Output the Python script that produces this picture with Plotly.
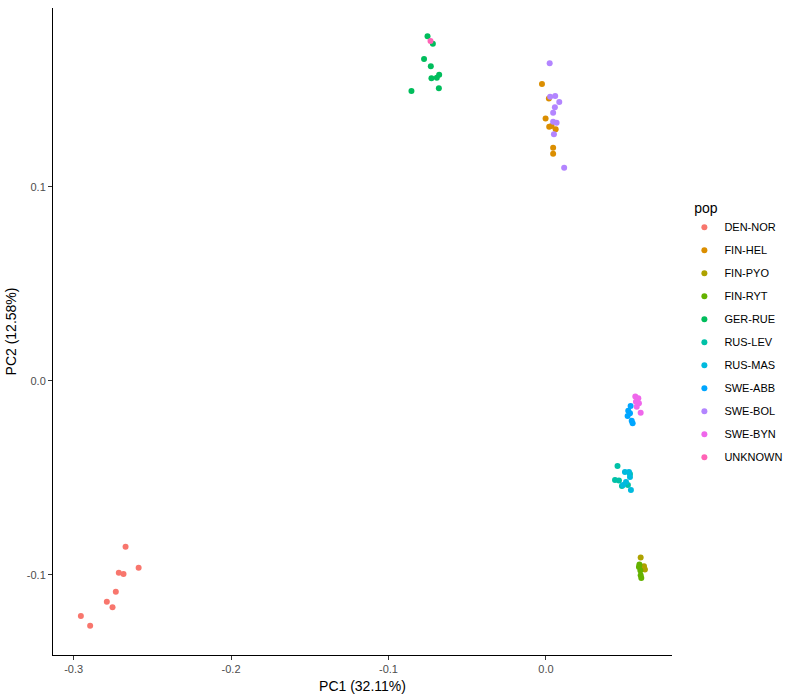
import plotly.graph_objects as go

pops = ["DEN-NOR", "FIN-HEL", "FIN-PYO", "FIN-RYT", "GER-RUE", "RUS-LEV",
        "RUS-MAS", "SWE-ABB", "SWE-BOL", "SWE-BYN", "UNKNOWN"]
colors = ["#F8766D", "#DB8E00", "#AEA200", "#64B200", "#00BD5C", "#00C1A7",
          "#00BADE", "#00A6FF", "#B385FF", "#EF67EB", "#FF63B6"]

pc1 = {
    "DEN-NOR": [-0.2670, -0.2587, -0.2713, -0.2683, -0.2732, -0.2789, -0.2753, -0.2954, -0.2895],
    "FIN-HEL": [-0.0025, 0.0019, -0.0002, 0.0021, 0.0036, 0.0062, 0.0046, 0.0046],
    "FIN-PYO": [0.0602, 0.0623, 0.0629, 0.0613],
    "FIN-RYT": [0.0594, 0.0600, 0.0602, 0.0606, 0.0591],
    "GER-RUE": [-0.0752, -0.0718, -0.0774, -0.0731, -0.0727, -0.0693, -0.0678, -0.0680, -0.0854],
    "RUS-LEV": [0.0455, 0.0439, 0.0464, 0.0483, 0.0521, 0.0534],
    "RUS-MAS": [0.0502, 0.0528, 0.0534, 0.0509, 0.0490, 0.0540],
    "SWE-ABB": [0.0538, 0.0523, 0.0534, 0.0519, 0.0545, 0.0551],
    "SWE-BOL": [0.0024, 0.0027, 0.0059, 0.0085, 0.0057, 0.0046, 0.0046, 0.0068, 0.0051, 0.0116],
    "SWE-BYN": [0.0568, 0.0587, 0.0572, 0.0591, 0.0577, 0.0602],
    "UNKNOWN": [-0.0733],
}
pc2 = {
    "DEN-NOR": [-0.0856, -0.0964, -0.0990, -0.0996, -0.1088, -0.1139, -0.1168, -0.1213, -0.1263],
    "FIN-HEL": [0.1529, 0.1454, 0.1351, 0.1309, 0.1313, 0.1296, 0.1201, 0.1170],
    "FIN-PYO": [-0.0911, -0.0957, -0.0973, -0.0965],
    "FIN-RYT": [-0.0948, -0.0979, -0.1003, -0.1017, -0.0960],
    "GER-RUE": [0.1775, 0.1737, 0.1658, 0.1621, 0.1559, 0.1562, 0.1577, 0.1507, 0.1493],
    "RUS-LEV": [-0.0440, -0.0512, -0.0514, -0.0543, -0.0538, -0.0481],
    "RUS-MAS": [-0.0471, -0.0471, -0.0496, -0.0522, -0.0538, -0.0563],
    "SWE-ABB": [-0.0130, -0.0155, -0.0168, -0.0182, -0.0206, -0.0220],
    "SWE-BOL": [0.1636, 0.1464, 0.1468, 0.1437, 0.1409, 0.1381, 0.1335, 0.1330, 0.1270, 0.1098],
    "SWE-BYN": [-0.0082, -0.0091, -0.0108, -0.0116, -0.0134, -0.0165],
    "UNKNOWN": [0.1751],
}

x_ticks = [-0.3, -0.2, -0.1, 0.0]
x_labels = ["-0.3", "-0.2", "-0.1", "0.0"]
y_ticks = [-0.1, 0.0, 0.1]
y_labels = ["-0.1", "0.0", "0.1"]

fig = go.Figure()
for p, c in zip(pops, colors):
    fig.add_trace(go.Scatter(
        x=pc1[p], y=pc2[p], mode="markers", name=p, legendgroup=p,
        marker=dict(color=c, size=6, line=dict(width=0)),
    ))

font = "Liberation Sans, Arial, sans-serif"
fig.update_layout(
    width=800, height=700,
    margin=dict(l=53, r=128, t=8, b=45),
    paper_bgcolor="white", plot_bgcolor="white",
    font=dict(family=font, size=11, color="#000000"),
    legend=dict(
        title=dict(text="&nbsp;&nbsp;pop", font=dict(size=14, color="#000000")),
        x=1.02, xanchor="left", y=0.497, yanchor="middle",
        font=dict(size=11, color="#000000"),
        itemsizing="trace",
        tracegroupgap=4,
    ),
    xaxis=dict(
        range=[-0.3131, 0.0801],
        tickvals=x_ticks, ticktext=x_labels,
        showgrid=False, zeroline=False,
        showline=True, linecolor="#000000", linewidth=1,
        ticks="outside", ticklen=4, tickcolor="#333333",
        tickfont=dict(size=11, color="#4D4D4D"),
        title=dict(text="PC1 (32.11%)", font=dict(size=14, color="#000000"), standoff=6),
    ),
    yaxis=dict(
        range=[-0.1414, 0.1921],
        tickvals=y_ticks, ticktext=y_labels,
        showgrid=False, zeroline=False,
        showline=True, linecolor="#000000", linewidth=1,
        ticks="outside", ticklen=4, tickcolor="#333333",
        tickfont=dict(size=11, color="#4D4D4D"),
        title=dict(text="PC2 (12.58%)", font=dict(size=14, color="#000000"), standoff=6),
    ),
)

fig.write_html("out.html")
